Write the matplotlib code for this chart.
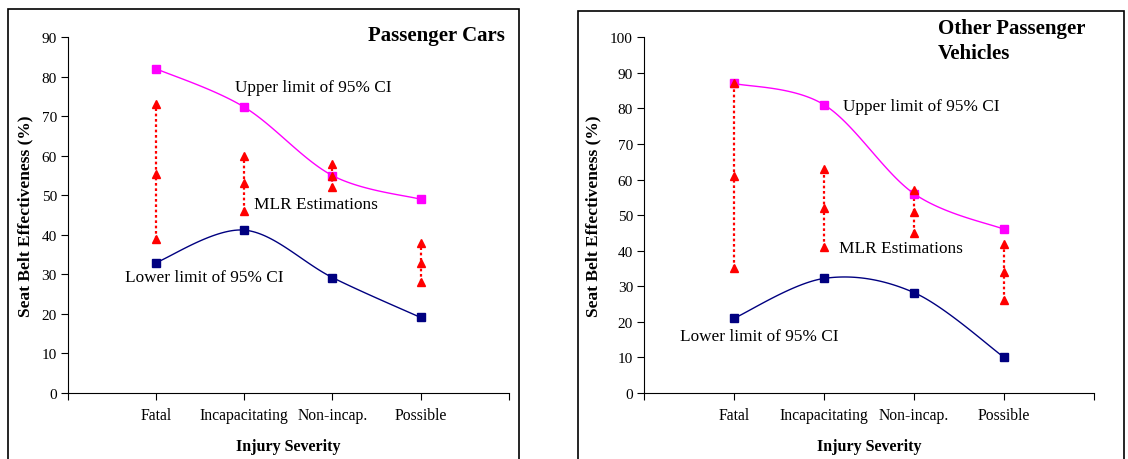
#!/usr/bin/env python3

import matplotlib
matplotlib.use("Agg")
import matplotlib.pyplot as plt
from matplotlib.patches import Rectangle
import numpy as np

plt.rcParams['font.family'] = ['Liberation Serif', 'DejaVu Serif']

categories = ["Fatal", "Incapacitating", "Non-incap.", "Possible"]

# Passenger cars
cars_upper = [82, 72.3, 55, 49]
cars_lower = [33, 41.2, 29.2, 19.1]
cars_mlr = [[73, 55.5, 39], [60, 53, 46], [58, 55, 52], [38, 33, 28]]

# Other passenger vehicles
opv_upper = [87, 81, 56, 46]
opv_lower = [21, 32.2, 28.2, 10]
opv_mlr = [[87, 61, 35], [63, 52, 41], [57, 51, 45], [42, 34, 26]]


def smooth(x, y, n=40):
    '''
    Bezier smoothing through every point (spreadsheet style smoothed line)
    '''
    x = np.asarray(x, float)
    y = np.asarray(y, float)
    pts = np.column_stack([x, y])
    out = []
    for i in range(len(pts) - 1):
        p0 = pts[max(i - 1, 0)]
        p1 = pts[i]
        p2 = pts[i + 1]
        p3 = pts[min(i + 2, len(pts) - 1)]
        c1 = p1 + (p2 - p0) / 6
        c2 = p2 - (p3 - p1) / 6
        t = np.linspace(0, 1, n)[:, None]
        seg = ((1 - t) ** 3 * p1 + 3 * (1 - t) ** 2 * t * c1
               + 3 * (1 - t) * t ** 2 * c2 + t ** 3 * p2)
        out.append(seg if i == 0 else seg[1:])
    seg = np.vstack(out)
    return seg[:, 0], seg[:, 1]


def draw_panel(ax, upper, lower, mlr, ymax, notes):
    xs = np.arange(1, len(categories) + 1)

    # MLR estimates: dotted span plus triangles
    for x, vals in zip(xs, mlr):
        ax.plot([x, x], [min(vals), max(vals)], color="red",
                linestyle=(0, (1.2, 1.2)), linewidth=1.6, zorder=2)
        ax.plot([x] * len(vals), vals, linestyle="none", marker="^",
                color="red", markersize=6, zorder=3)

    sx, sy = smooth(xs, upper)
    ax.plot(sx, sy, color="#FF00FF", linewidth=1, zorder=2)
    ax.plot(xs, upper, linestyle="none", marker="s", color="#FF00FF",
            markersize=5.5, zorder=2)

    sx, sy = smooth(xs, lower)
    ax.plot(sx, sy, color="#000080", linewidth=1, zorder=2)
    ax.plot(xs, lower, linestyle="none", marker="s", color="#000080",
            markersize=5.5, zorder=2)

    ax.set_xlim(0, 5)
    ax.set_ylim(0, ymax)
    ax.set_xticks(range(0, 6))
    ax.set_xticklabels([""] + categories + [""], fontsize=11.3)
    ax.set_yticks(range(0, ymax + 1, 10))
    ax.tick_params(axis="y", labelsize=11, length=5, direction="out",
                   pad=3)
    ax.tick_params(axis="x", length=5, direction="out", pad=5)
    ax.spines["top"].set_visible(False)
    ax.spines["right"].set_visible(False)
    ax.set_xlabel("Injury Severity", fontsize=11.5, fontweight="bold",
                  labelpad=11)
    ax.set_ylabel("Seat Belt Effectiveness (%)", fontsize=12.5,
                  fontweight="bold", labelpad=6)

    for x, y, s in notes:
        ax.text(x, y, s, fontsize=12.4, ha="left", va="center")


fig = plt.figure(figsize=(11.28, 4.6), dpi=100)

ax1 = fig.add_axes([0.0603, 0.1435, 0.3907, 0.7735])
draw_panel(ax1, cars_upper, cars_lower, cars_mlr, 90,
           [(1.9, 77.3, "Upper limit of 95% CI"),
            (2.11, 47.7, "MLR Estimations"),
            (0.65, 29.3, "Lower limit of 95% CI")])

ax2 = fig.add_axes([0.571, 0.1435, 0.399, 0.7735])
draw_panel(ax2, opv_upper, opv_lower, opv_mlr, 100,
           [(2.21, 80.6, "Upper limit of 95% CI"),
            (2.16, 40.7, "MLR Estimations"),
            (0.4, 16.0, "Lower limit of 95% CI")])

# Panel titles
fig.text(505 / 1128, 1 - 36 / 460, "Passenger Cars", fontsize=15,
         fontweight="bold", ha="right", va="center")
fig.text(938 / 1128, 1 - 19 / 460, "Other Passenger\nVehicles",
         fontsize=15, fontweight="bold", ha="left", va="top",
         linespacing=1.35)

# Panel frames
for x0, x1, y0 in [(8, 519, 10), (578, 1124, 12)]:
    fig.patches.append(Rectangle((x0 / 1128, -0.01), (x1 - x0) / 1128,
                                 1.01 - y0 / 460, transform=fig.transFigure,
                                 fill=False, edgecolor="black",
                                 linewidth=1.2))

plt.savefig("out.png", dpi=100)
